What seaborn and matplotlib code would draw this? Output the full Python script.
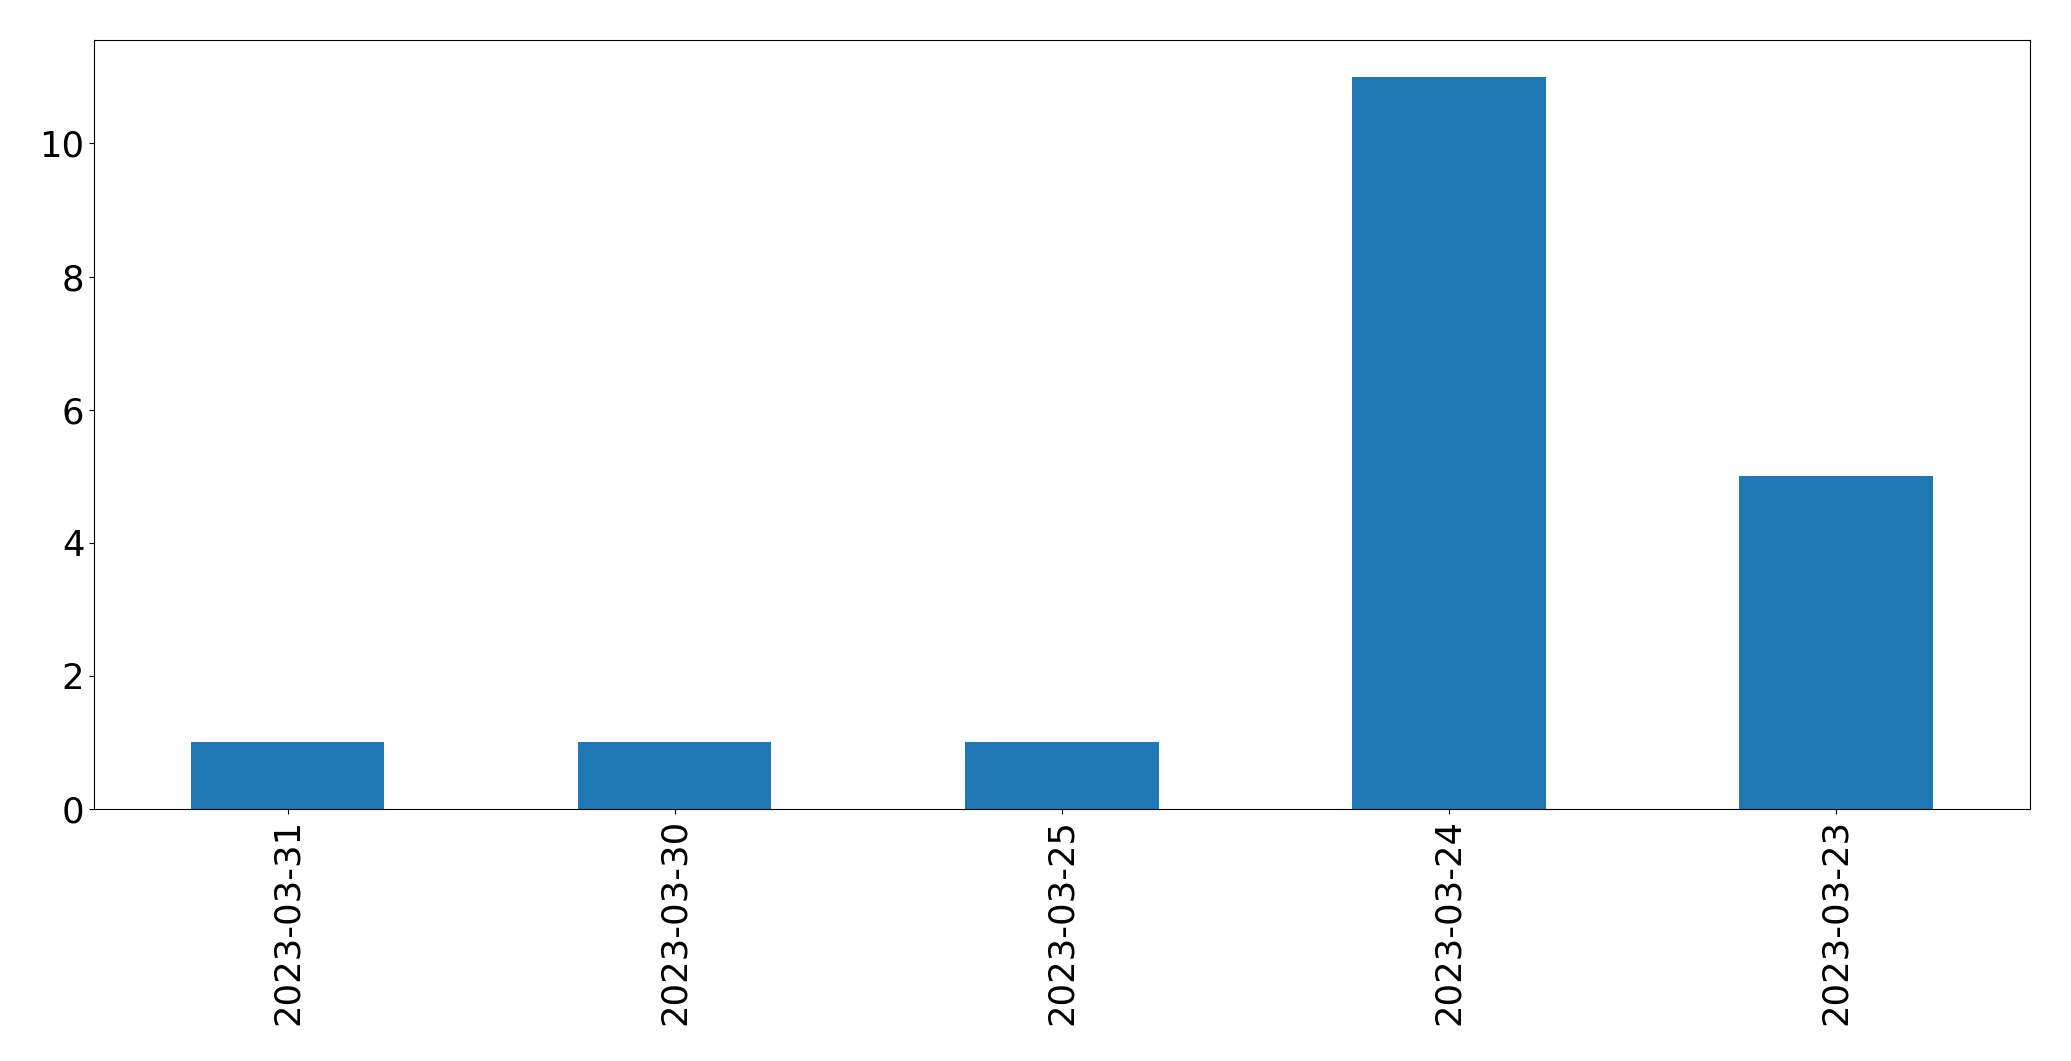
import pandas as pd
import matplotlib
matplotlib.use("Agg")
import matplotlib.pyplot as plt
import seaborn as sns

dates = ['2023-03-31', '2023-03-30', '2023-03-25', '2023-03-24', '2023-03-23']
counts = [1, 1, 1, 11, 5]

df = pd.DataFrame({'date': dates, 'count': counts})

fig, ax = plt.subplots(figsize=(20.71, 10.61), dpi=100)
sns.barplot(data=df, x='date', y='count', order=dates, color='#1f77b4',
            saturation=1, width=0.5, linewidth=0, ax=ax)
ax.set_xlabel('')
ax.set_ylabel('')
ax.set_xlim(-0.5, len(dates) - 0.5)
ax.set_ylim(0, max(counts) * 1.05)
ax.tick_params(axis='both', labelsize=25.5)
ax.tick_params(axis='x', labelrotation=90)
plt.subplots_adjust(left=0.0454, right=0.980, top=0.962, bottom=0.2375)
plt.savefig('out.png', dpi=100)
plt.close()
